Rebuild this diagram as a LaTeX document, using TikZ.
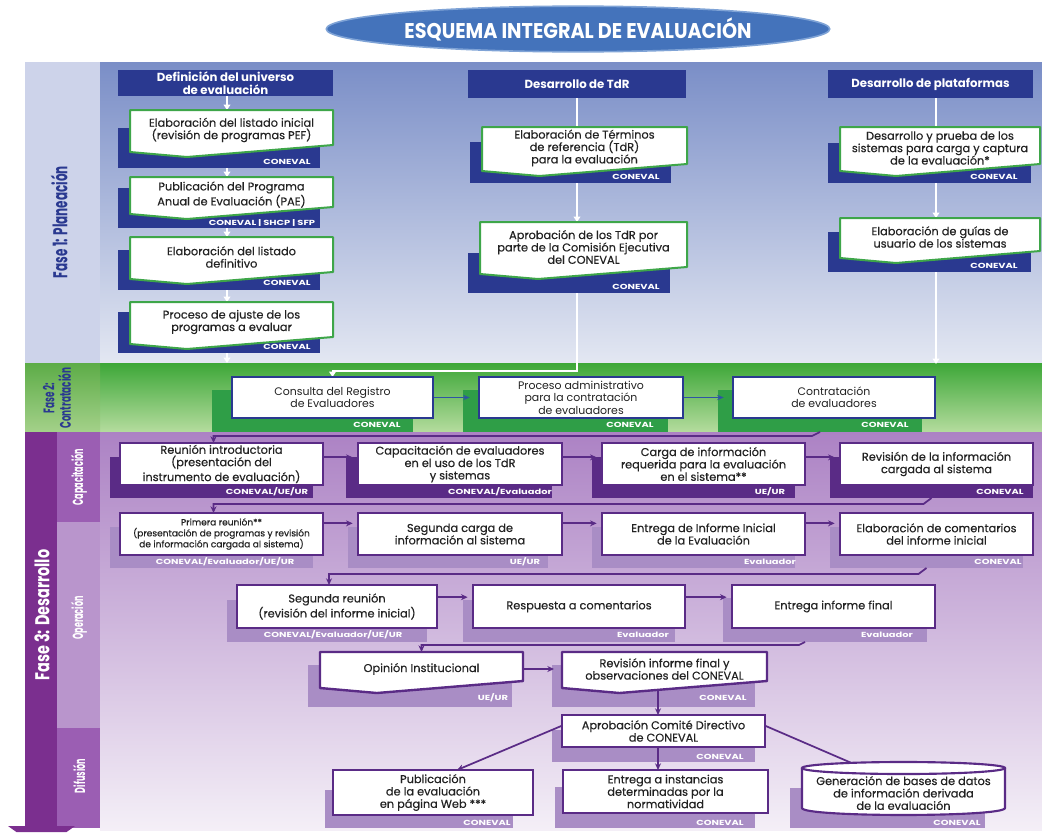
\documentclass[tikz,border=0pt]{standalone}
\usepackage{fontspec}
\setmainfont{Poppins}
\newfontfamily\medfont{Poppins}[FakeBold=0.35]
\usepackage{graphicx}
\usetikzlibrary{arrows.meta,calc,shapes.geometric}
\pgfdeclarelayer{bg}
\pgfdeclarelayer{shad}
\pgfdeclarelayer{conn}
\pgfsetlayers{bg,shad,conn,main}
\definecolor{navy}{HTML}{2A3990}
\definecolor{gborder}{HTML}{3EA649}
\definecolor{gdark}{HTML}{2F9E47}
\definecolor{pdark}{HTML}{5A2B86}
\definecolor{pshadow}{HTML}{A98DC5}
\definecolor{p1top}{HTML}{7A8EC7}
\definecolor{p1bot}{HTML}{E3E7F2}
\definecolor{p1strip}{HTML}{CDD3EA}
\definecolor{p2top}{HTML}{3DA738}
\definecolor{p2bot}{HTML}{B5DC9E}
\definecolor{p2stop}{HTML}{5DAC47}
\definecolor{p2sbot}{HTML}{A4D18A}
\definecolor{p3top}{HTML}{AC82C4}
\definecolor{p3bot}{HTML}{F4EFF7}
\definecolor{p3dark}{HTML}{7B2F8F}
\definecolor{p3sub1}{HTML}{9B5EB3}
\definecolor{p3sub2}{HTML}{B995CC}
\definecolor{tblue}{HTML}{4473BB}
\definecolor{tblue2}{HTML}{7FA3D6}
\definecolor{barrow}{HTML}{2E54A4}
\definecolor{ink}{HTML}{222222}
\tikzset{
  bxbase/.style={inner sep=0pt,outer sep=0pt,align=center},
  txt/.style={font=\medfont\fontsize{8.5}{9.3}\selectfont,text=ink},
  smalltxt/.style={font=\medfont\fontsize{6.8}{8.2}\selectfont,text=ink},
  p2txt/.style={font=\fontsize{8.2}{9.3}\selectfont},
  hdr/.style={fill=navy,text=white,font=\fontsize{8.8}{10}\selectfont\bfseries},
  wb2/.style={fill=white,draw=navy,line width=1.5pt,txt},
  wb3/.style={fill=white,draw=pdark,line width=1.8pt,txt},
  db1/.style={fill=white,draw=gborder,line width=1.5pt,line join=round},
  db3/.style={fill=white,draw=pdark,line width=1.8pt,line join=round},
  labst/.style={text=white,font=\fontsize{5.5}{6}\selectfont\bfseries,inner sep=0pt},
  warr/.style={draw=white,line width=1pt,-{Triangle[width=5pt,length=4pt]}},
  wline/.style={draw=white,line width=1pt},
  barr/.style={draw=barrow,line width=1.2pt,-{Stealth[length=5pt,width=4pt]},shorten >=7pt},
  parr/.style={draw=pdark,line width=1.3pt,-{Stealth[length=5pt,width=4.5pt]}},
  phlab/.style={rotate=90,inner sep=0pt},
}
\newcommand\bx[7][]{\node[bxbase,#1,minimum width={(#5-#3)*0.75pt},minimum height={(#6-#4)*0.75pt}] (#2) at ({(#3+#5)/2},{(#4+#6)/2}) {#7};}
\newcommand\docbox[7][db1]{%
  \filldraw[#1] (#3,#4) -- (#5,#4) -- (#5,{#6-7}) -- ({#3+0.28*(#5-#3)},{#6+5}) -- (#3,#6) -- cycle;
  \node[bxbase,txt,minimum width={(#5-#3)*0.75pt},minimum height={(#6-2-#4)*0.75pt}] (#2) at ({(#3+#5)/2},{(#4+#6-2)/2}) {#7};}
\newcommand\lab[4]{\node[labst] (#1) at (#2,#3) {\scalebox{1.35}[1]{#4}};}
\begin{document}
\begin{tikzpicture}[x=0.75pt,y=-0.75pt]
\useasboundingbox (0,0) rectangle (1042,832);
\begin{pgfonlayer}{bg}
\fill[white] (0,0) rectangle (1042,832);
\fill[top color=p1top,bottom color=p1bot] (100,62) rectangle (1042,363);
\fill[p1strip] (25,62) rectangle (100,363);
\fill[top color=p2top,bottom color=p2bot] (100,363) rectangle (1042,432);
\fill[top color=p2stop,bottom color=p2sbot] (25,363) rectangle (100,432);
\fill[top color=p3top,bottom color=p3bot] (100,432) rectangle (1042,830);
\fill[p3sub1] (57,432) rectangle (100,522);
\fill[p3sub2] (57,522) rectangle (100,728);
\fill[p3sub1] (57,728) rectangle (100,828);
\fill[p3dark] (25,432) rectangle (57,826);
\fill[p3dark] (8,826) -- (75,826) -- (66.6,832) -- (16.4,832) -- cycle;
\end{pgfonlayer}

% title
\node[ellipse,fill=tblue,draw=tblue2,line width=1.2pt,minimum width=356pt,minimum height=28.5pt,text=white,font=\fontsize{16}{16}\selectfont\bfseries] (title) at (578,29) {\scalebox{0.9}[1]{ESQUEMA INTEGRAL DE EVALUACIÓN}};

% phase labels
\node[phlab,text=navy,font=\fontsize{15}{15}\selectfont\bfseries] (f1) at (59,222) {\scalebox{0.6}[1]{Fase 1: Planeación}};
\node[phlab,text=navy,font=\fontsize{11.5}{12.5}\selectfont\bfseries,align=center] (f2) at (57,398) {\scalebox{0.58}[1]{Fase 2:}\\\scalebox{0.58}[1]{Contratación}};
\node[phlab,text=white,font=\fontsize{15}{15}\selectfont\bfseries] (f3) at (42,615) {\scalebox{0.72}[1]{Fase 3: Desarrollo}};
\node[phlab,text=white,font=\fontsize{11}{11}\selectfont\bfseries] (s1) at (79,477) {\scalebox{0.55}[1]{Capacitación}};
\node[phlab,text=white,font=\fontsize{11}{11}\selectfont\bfseries] (s2) at (79,618) {\scalebox{0.55}[1]{Operación}};
\node[phlab,text=white,font=\fontsize{11}{11}\selectfont\bfseries] (s3) at (79,776) {\scalebox{0.55}[1]{Difusión}};

% ---------- shadows ----------
\begin{pgfonlayer}{shad}
\bx[fill=navy]{n11}{118}{128}{320}{168}{}
\bx[fill=navy]{n12}{118}{188}{320}{228}{}
\bx[fill=navy]{n13}{118}{250}{320}{290}{}
\bx[fill=navy]{n14}{118}{312}{320}{353}{}
\bx[fill=navy]{n21}{470}{142}{671}{183}{}
\bx[fill=navy]{n22}{468}{253}{670}{293}{}
\bx[fill=navy]{n31}{828}{143}{1031}{183}{}
\bx[fill=navy]{n32}{828}{232}{1031}{272}{}
\bx[fill=gdark]{g1}{212}{390}{413}{432}{}
\bx[fill=gdark]{g2}{463}{390}{668}{432}{}
\bx[fill=gdark]{g3}{718}{390}{922}{432}{}
\bx[fill=pdark]{s1a}{110}{457}{313}{498}{}
\bx[fill=pdark]{s1b}{346}{457}{552}{498}{}
\bx[fill=pdark]{s1c}{592}{457}{795}{498}{}
\bx[fill=pdark]{s1d}{830}{457}{1033}{498}{}
\bx[fill=pshadow]{s2a}{110}{527}{313}{568}{}
\bx[fill=pshadow]{s2b}{348}{527}{548}{568}{}
\bx[fill=pshadow]{s2c}{592}{527}{795}{568}{}
\bx[fill=pshadow]{s2d}{830}{527}{1023}{568}{}
\bx[fill=pshadow]{s3a}{227}{600}{427}{642}{}
\bx[fill=pshadow]{s3b}{463}{600}{675}{642}{}
\bx[fill=pshadow]{s3c}{723}{598}{927}{642}{}
\bx[fill=pshadow]{s4a}{308}{665}{512}{707}{}
\bx[fill=pshadow]{s4b}{552}{665}{755}{707}{}
\bx[fill=pshadow]{s5a}{552}{730}{755}{762}{}
\bx[fill=pshadow]{s6a}{325}{790}{513}{828}{}
\bx[fill=pshadow]{s6b}{555}{787}{755}{828}{}
\bx[fill=pshadow]{s6c}{790}{788}{985}{828}{}
\end{pgfonlayer}

% ---------- Phase 1 ----------
\bx[hdr]{h1}{118}{70}{333}{96}{Definición del universo\\de evaluación}
\bx[hdr]{h2}{468}{70}{686}{98}{Desarrollo de TdR}
\bx[hdr]{h3}{828}{70}{1033}{98}{Desarrollo de plataformas}

\docbox{b11}{130}{110}{333}{152}{Elaboración del listado inicial\\(revisión de programas PEF)}
\docbox{b12}{130}{177}{333}{214}{Publicación del Programa\\Anual de Evaluación (PAE)}
\docbox{b13}{130}{237}{333}{279}{Elaboración del listado\\definitivo}
\docbox{b14}{130}{302}{333}{344}{Proceso de ajuste de los\\programas a evaluar}
\docbox{b21}{482}{127}{687}{171}{Elaboración de Términos\\de referencia (TdR)\\para la evaluación}
\docbox{b22}{480}{222}{687}{274}{Aprobación de los TdR por\\parte de la Comisión Ejecutiva\\del CONEVAL}
\docbox{b31}{840}{127}{1040}{171}{Desarrollo y prueba de los\\sistemas para carga y captura\\de la evaluación*}
\docbox{b32}{840}{218}{1040}{258}{Elaboración de guías de\\usuario de los sistemas}

\lab{l11}{287}{162}{CONEVAL}
\lab{l12}{262}{223}{CONEVAL | SHCP | SFP}
\lab{l13}{287}{283}{CONEVAL}
\lab{l14}{287}{347}{CONEVAL}
\lab{l21}{636}{177}{CONEVAL}
\lab{l22}{636}{287}{CONEVAL}
\lab{l31}{994}{177}{CONEVAL}
\lab{l32}{994}{266}{CONEVAL}

% ---------- Phase 2 ----------
\bx[wb2,p2txt]{p2a}{232}{377}{433}{418}{Consulta del Registro\\de Evaluadores}
\bx[wb2,p2txt]{p2b}{479}{377}{683}{418}{Proceso administrativo\\para la contratación\\de evaluadores}
\bx[wb2,p2txt]{p2c}{733}{377}{935}{418}{Contratación\\de evaluadores}
\lab{lg1}{377}{425}{CONEVAL}
\lab{lg2}{630}{425}{CONEVAL}
\lab{lg3}{885}{425}{CONEVAL}

% ---------- Phase 3 ----------
\bx[wb3]{r1a}{120}{443}{323}{485}{Reunión introductoria\\(presentación del\\instrumento de evaluación)}
\bx[wb3]{r1b}{358}{443}{562}{485}{Capacitación de evaluadores\\en el uso de los TdR\\y sistemas}
\bx[wb3]{r1c}{602}{443}{805}{485}{Carga de información\\requerida para la evaluación\\en el sistema**}
\bx[wb3]{r1d}{840}{443}{1033}{485}{Revisión de la información\\cargada al sistema}
\lab{lr1a}{267}{492}{CONEVAL/UE/UR}
\lab{lr1b}{500}{492}{CONEVAL/Evaluador}
\lab{lr1c}{770}{492}{UE/UR}
\lab{lr1d}{1000}{492}{CONEVAL}

\bx[wb3,smalltxt]{r2a}{120}{513}{323}{555}{Primera reunión**\\(presentación de programas y revisión\\de información cargada al sistema)}
\bx[wb3]{r2b}{358}{513}{562}{555}{Segunda carga de\\información al sistema}
\bx[wb3]{r2c}{602}{513}{805}{555}{Entrega de Informe Inicial\\de la Evaluación}
\bx[wb3]{r2d}{840}{513}{1033}{555}{Elaboración de comentarios\\del informe inicial}
\lab{lr2a}{225}{562}{CONEVAL/Evaluador/UE/UR}
\lab{lr2b}{525}{562}{UE/UR}
\lab{lr2c}{770}{562}{Evaluador}
\lab{lr2d}{998}{562}{CONEVAL}

\bx[wb3]{r3a}{237}{585}{437}{628}{Segunda reunión\\(revisión del informe inicial)}
\bx[wb3]{r3b}{473}{585}{685}{628}{Respuesta a comentarios}
\bx[wb3]{r3c}{732}{585}{935}{628}{Entrega informe final}
\lab{lr3a}{333}{635}{CONEVAL/Evaluador/UE/UR}
\lab{lr3b}{643}{635}{Evaluador}
\lab{lr3c}{887}{635}{Evaluador}

\docbox[db3]{r4a}{320}{652}{523}{688}{Opinión Institucional}
\docbox[db3]{r4b}{562}{652}{767}{688}{Revisión informe final y\\observaciones del CONEVAL}
\lab{lr4a}{493}{698}{UE/UR}
\lab{lr4b}{723}{698}{CONEVAL}

\bx[wb3]{r5a}{562}{715}{765}{747}{Aprobación Comité Directivo\\de CONEVAL}
\lab{lr5a}{720}{757}{CONEVAL}

\bx[wb3]{r6a}{333}{770}{533}{815}{Publicación\\de la evaluación\\en página Web ***}
\bx[wb3]{r6b}{563}{770}{768}{813}{Entrega a instancias\\determinadas por la\\normatividad}
\filldraw[fill=white,draw=pdark,line width=1.6pt] (802,768) -- (802,808) .. controls (802,817.3) and (1005,817.3) .. (1005,808) -- (1005,768);
\filldraw[fill=white,draw=pdark,line width=1.6pt] (903.5,768) ellipse [x radius=101.5, y radius=6];
\bx[txt]{r6c}{802}{771}{1005}{815}{Generación de bases de datos\\de información derivada\\de la evaluación}
\lab{lr6a}{487}{823}{CONEVAL}
\lab{lr6b}{720}{823}{CONEVAL}
\lab{lr6c}{957}{823}{CONEVAL}

% ---------- connectors ----------
\coordinate (c1) at (227,0);
\coordinate (c2) at (577,0);
\coordinate (c3) at (936,0);
\coordinate (c4) at (658,0);
\coordinate (e1) at (227,363);
\coordinate (e3) at (936,364);
\begin{pgfonlayer}{conn}
\draw[warr] (c1 |- h1.south) -- (c1 |- b11.north);
\draw[warr] (c1 |- n11.south) -- (c1 |- b12.north);
\draw[warr] (c1 |- n12.south) -- (c1 |- b13.north);
\draw[warr] (c1 |- n13.south) -- (c1 |- b14.north);
\draw[warr] (c1 |- n14.south) -- (e1);
\draw[wline] (c2 |- h2.south) -- (c2 |- b21.north);
\draw[warr] (c2 |- n21.south) -- (c2 |- b22.north);
\draw[warr] (c2 |- n22.south) |- ($(p2a.north)+(0,-6)$) -- (p2a.north);
\draw[wline] (c3 |- h3.south) -- (c3 |- b31.north);
\draw[warr] (c3 |- n31.south) -- (c3 |- b32.north);
\draw[warr] (c3 |- n32.south) -- (e3);

\draw[barr] (p2a.east) -- (p2b.west);
\draw[barr] (p2b.east) -- (p2c.west);

\draw[parr] (g3.south) -- ++(-8,4) -| ([xshift=-6pt]r1a.north);
\draw[parr,shorten >=4pt] ([yshift=5pt]r1a.east) -- ([yshift=5pt]r1b.west);
\draw[parr,shorten >=4pt] ([yshift=5pt]r1b.east) -- ([yshift=5pt]r1c.west);
\draw[parr,shorten >=4pt] ([yshift=5pt]r1c.east) -- ([yshift=5pt]r1d.west);
\draw[parr] (s1d.south) -- ++(-8,6) -| ([xshift=-6pt]r2a.north);
\draw[parr,shorten >=4pt] ([yshift=8pt]r2a.east) -- ([yshift=8pt]r2b.west);
\draw[parr,shorten >=4pt] ([yshift=8pt]r2b.east) -- ([yshift=8pt]r2c.west);
\draw[parr,shorten >=4pt] ([yshift=8pt]r2c.east) -- ([yshift=8pt]r2d.west);
\draw[parr] (s2d.south) -- ++(-8,6) -| ([xshift=-6pt]r3a.north);
\draw[parr,shorten >=4pt] ([yshift=7pt]r3a.east) -- ([yshift=7pt]r3b.west);
\draw[parr,shorten >=4pt] ([yshift=7pt]r3b.east) -- ([yshift=7pt]r3c.west);
\draw[parr] ([xshift=-15pt]s3c.south) -- ++(-6,3) -| (r4a.north);
\draw[parr,shorten >=6pt] (r4a.east) -- (r4b.west);
\draw[parr] (c4 |- r4b.south) -- (c4 |- r5a.north);
\draw[parr] (c4 |- r5a.south) -- (c4 |- r6b.north);
\draw[parr] ([yshift=4pt]r5a.west) -- ([xshift=18pt]r6a.north);
\draw[parr] ([yshift=4pt]r5a.east) -- ([xshift=-25pt]r6c.north);
\end{pgfonlayer}
\end{tikzpicture}
\end{document}
